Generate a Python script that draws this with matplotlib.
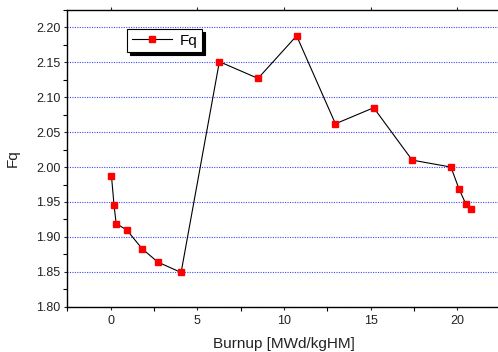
import numpy as np
import matplotlib
matplotlib.use('Agg')
import matplotlib.pyplot as plt
from matplotlib.ticker import MultipleLocator

plt.rcParams['font.family'] = ['Liberation Sans', 'DejaVu Sans']

# burnup [MWd/kgHM] and Fq
burnup = [0.04, 0.19, 0.31, 0.92, 1.81, 2.71, 4.06, 6.27, 8.5, 10.73,
          12.97, 15.18, 17.4, 19.64, 20.1, 20.5, 20.8]
fq = [1.987, 1.945, 1.919, 1.910, 1.883, 1.864, 1.849, 2.151, 2.127, 2.188,
      2.062, 2.085, 2.010, 2.000, 1.969, 1.947, 1.940]

fig = plt.figure(figsize=(4.98, 3.52), dpi=100)
ax = fig.add_axes([0.1355, 0.1287, 0.8695, 0.8429])

ax.plot(burnup, fq, color='black', lw=0.8, marker='s', ms=5,
        mfc='red', mec='red', label='Fq')

ax.set_xlim(-2.5, 22.5)
ax.set_ylim(1.80, 2.225)
ax.xaxis.set_major_locator(MultipleLocator(5))
ax.xaxis.set_minor_locator(MultipleLocator(2.5))
ax.yaxis.set_major_locator(MultipleLocator(0.05))
ax.yaxis.set_minor_locator(MultipleLocator(0.025))
ax.yaxis.set_major_formatter(plt.FormatStrFormatter('%.2f'))

ax.yaxis.grid(True, which='major', color='#4444ff', linestyle=(0, (1, 1.2)), lw=0.8)
ax.set_axisbelow(True)

ax.tick_params(axis='both', which='major', direction='out', length=5, width=0.8,
               labelsize=9, colors='#222222', labelcolor='#222222')
ax.tick_params(axis='x', which='major', pad=4)
ax.tick_params(axis='y', which='major', pad=3)
ax.tick_params(axis='both', which='minor', direction='out', length=3, width=0.8)
ax.tick_params(top=True, which='major', length=2)
for s in ax.spines.values():
    s.set_linewidth(1.0)

ax.set_xlabel('Burnup [MWd/kgHM]', fontsize=11, color='#222222', labelpad=7)
ax.set_ylabel('Fq', fontsize=11, color='#222222', labelpad=12)

leg = ax.legend(loc='upper left', bbox_to_anchor=(0.1386, 0.936), borderaxespad=0,
                fancybox=False, edgecolor='black', framealpha=1, fontsize=11,
                handlelength=2.6, borderpad=0.3, handletextpad=0.5,
                shadow={'facecolor': 'black', 'edgecolor': 'black', 'alpha': 1})
leg.get_frame().set_linewidth(0.8)

fig.savefig('out.png', dpi=100)
